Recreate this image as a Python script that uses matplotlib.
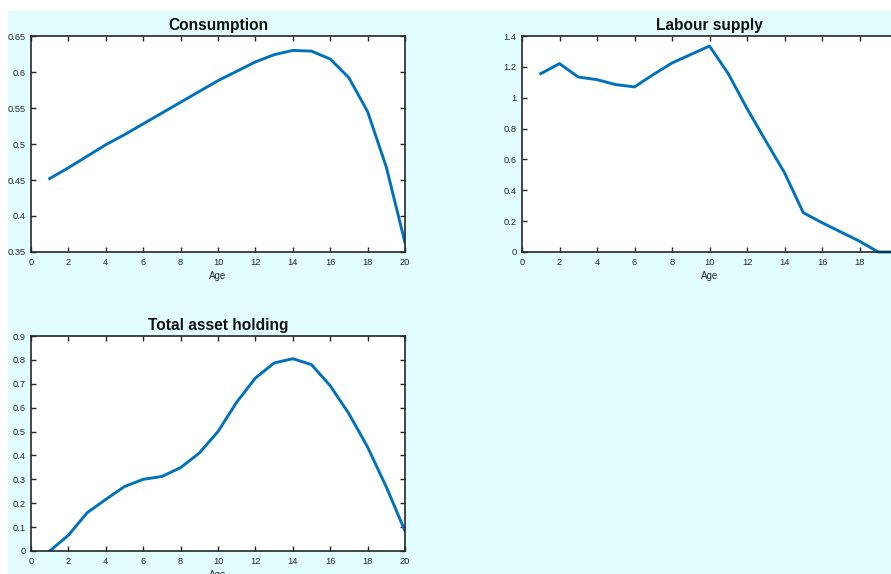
import matplotlib
matplotlib.use("Agg")
import matplotlib.pyplot as plt
from matplotlib.patches import Rectangle
from matplotlib.ticker import FuncFormatter

# life-cycle profiles by age
age = list(range(1, 21))
consumption = [0.452, 0.467, 0.483, 0.499, 0.513, 0.528, 0.543, 0.558, 0.573, 0.588,
               0.601, 0.614, 0.624, 0.630, 0.629, 0.618, 0.592, 0.545, 0.468, 0.363]
labour = [1.156, 1.221, 1.134, 1.117, 1.085, 1.070, 1.150, 1.225, 1.280, 1.335,
          1.156, 0.930, 0.720, 0.514, 0.255, 0.190, 0.130, 0.070, 0.0, 0.0]
assets = [0.0, 0.066, 0.160, 0.216, 0.270, 0.300, 0.312, 0.349, 0.410, 0.500,
          0.623, 0.724, 0.787, 0.805, 0.780, 0.692, 0.575, 0.435, 0.268, 0.084]

x_ticks = list(range(0, 21, 2))
cons_ticks = [0.35, 0.4, 0.45, 0.5, 0.55, 0.6, 0.65]
lab_ticks = [0, 0.2, 0.4, 0.6, 0.8, 1, 1.2, 1.4]
asset_ticks = [0, 0.1, 0.2, 0.3, 0.4, 0.5, 0.6, 0.7, 0.8, 0.9]

plt.rcParams['font.family'] = ['Liberation Sans', 'DejaVu Sans']

W, H = 891, 574
fig = plt.figure(figsize=(W / 100, H / 100), dpi=100)
fig.patch.set_facecolor('white')
fig.patches.append(Rectangle((8 / W, 0), 1, 1 - 11 / H, transform=fig.transFigure,
                             facecolor='#e1fdfd', edgecolor='none', zorder=-1))


def px_axes(left, top, right, bottom):
    return fig.add_axes([left / W, 1 - bottom / H, (right - left) / W, (bottom - top) / H])


def style(ax, title, yticks, ylim, show_xlabel=True):
    ax.set_facecolor('white')
    ax.set_xlim(0, 20)
    ax.set_ylim(*ylim)
    ax.set_xticks(x_ticks)
    ax.set_yticks(yticks)
    ax.xaxis.set_major_formatter(FuncFormatter(lambda v, p: '%g' % v))
    ax.yaxis.set_major_formatter(FuncFormatter(lambda v, p: '%g' % round(v, 2)))
    ax.tick_params(direction='in', length=3.5, width=1, top=True, right=True,
                   labelsize=6.7, colors='#262626', pad=4)
    for s in ax.spines.values():
        s.set_linewidth(1.2)
        s.set_color('#262626')
    ax.set_title(title, fontsize=11.2, fontweight='bold', color='#111111', pad=4)
    if show_xlabel:
        ax.set_xlabel('Age', fontsize=7, color='#262626', labelpad=3)


ax1 = px_axes(31, 36, 405, 252)
ax1.plot(age, consumption, color='#0072BD', lw=2.1)
style(ax1, 'Consumption', cons_ticks, (0.35, 0.65))

ax2 = px_axes(522, 36, 897, 252)
ax2.plot(age, labour, color='#0072BD', lw=2.1, clip_on=False)
style(ax2, 'Labour supply', lab_ticks, (0, 1.4))

ax3 = px_axes(31, 336, 405, 551)
ax3.plot(age, assets, color='#0072BD', lw=2.1)
style(ax3, 'Total asset holding', asset_ticks, (0, 0.9))

fig.savefig('out.png', dpi=100)
